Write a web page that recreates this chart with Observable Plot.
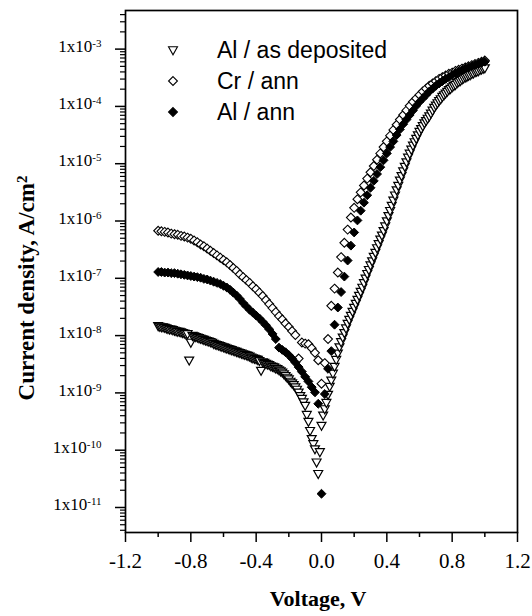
<!DOCTYPE html>
<html><head><meta charset="utf-8">
<script src="https://cdn.jsdelivr.net/npm/d3@7"></script>
<script src="https://cdn.jsdelivr.net/npm/@observablehq/plot@0.6"></script>
<style>
html,body{margin:0;padding:0;background:#fff;}
#chart{width:532px;height:616px;}
</style></head><body><div id="chart"></div>
<script>
// ---- data (current density, stored as log10 of A/cm^2) ----
const seriesNames = ["Al / as deposited", "Cr / ann", "Al / ann"];

// voltage sweep, 0.02 V step (Cr / ann and Al / ann)
const voltage02 = [
-1,-0.98,-0.96,-0.94,-0.92,-0.9,-0.88,-0.86,-0.84,-0.82,
-0.8,-0.78,-0.76,-0.74,-0.72,-0.7,-0.68,-0.66,-0.64,-0.62,
-0.6,-0.58,-0.56,-0.54,-0.52,-0.5,-0.48,-0.46,-0.44,-0.42,
-0.4,-0.38,-0.36,-0.34,-0.32,-0.3,-0.28,-0.26,-0.24,-0.22,
-0.2,-0.18,-0.16,-0.14,-0.12,-0.1,-0.08,-0.06,-0.04,-0.02,
0,0.02,0.04,0.06,0.08,0.1,0.12,0.14,0.16,0.18,
0.2,0.22,0.24,0.26,0.28,0.3,0.32,0.34,0.36,0.38,
0.4,0.42,0.44,0.46,0.48,0.5,0.52,0.54,0.56,0.58,
0.6,0.62,0.64,0.66,0.68,0.7,0.72,0.74,0.76,0.78,
0.8,0.82,0.84,0.86,0.88,0.9,0.92,0.94,0.96,0.98,
1];

// voltage sweep, 0.01 V step (Al / as deposited)
const voltage01 = [
-1,-0.99,-0.98,-0.97,-0.96,-0.95,-0.94,-0.93,-0.92,-0.91,
-0.9,-0.89,-0.88,-0.87,-0.86,-0.85,-0.84,-0.83,-0.82,-0.81,
-0.8,-0.79,-0.78,-0.77,-0.76,-0.75,-0.74,-0.73,-0.72,-0.71,
-0.7,-0.69,-0.68,-0.67,-0.66,-0.65,-0.64,-0.63,-0.62,-0.61,
-0.6,-0.59,-0.58,-0.57,-0.56,-0.55,-0.54,-0.53,-0.52,-0.51,
-0.5,-0.49,-0.48,-0.47,-0.46,-0.45,-0.44,-0.43,-0.42,-0.41,
-0.4,-0.39,-0.38,-0.37,-0.36,-0.35,-0.34,-0.33,-0.32,-0.31,
-0.3,-0.29,-0.28,-0.27,-0.26,-0.25,-0.24,-0.23,-0.22,-0.21,
-0.2,-0.19,-0.18,-0.17,-0.16,-0.15,-0.14,-0.13,-0.12,-0.11,
-0.1,-0.09,-0.08,-0.07,-0.06,-0.05,-0.04,-0.03,-0.02,-0.01,
0,0.01,0.02,0.03,0.04,0.05,0.06,0.07,0.08,0.09,
0.1,0.11,0.12,0.13,0.14,0.15,0.16,0.17,0.18,0.19,
0.2,0.21,0.22,0.23,0.24,0.25,0.26,0.27,0.28,0.29,
0.3,0.31,0.32,0.33,0.34,0.35,0.36,0.37,0.38,0.39,
0.4,0.41,0.42,0.43,0.44,0.45,0.46,0.47,0.48,0.49,
0.5,0.51,0.52,0.53,0.54,0.55,0.56,0.57,0.58,0.59,
0.6,0.61,0.62,0.63,0.64,0.65,0.66,0.67,0.68,0.69,
0.7,0.71,0.72,0.73,0.74,0.75,0.76,0.77,0.78,0.79,
0.8,0.81,0.82,0.83,0.84,0.85,0.86,0.87,0.88,0.89,
0.9,0.91,0.92,0.93,0.94,0.95,0.96,0.97,0.98,0.99,
1];

const alAsDepositedLog10J = [
-7.83,-7.84,-7.85,-7.85,-7.86,-7.87,-7.88,-7.89,-7.89,-7.90,
-7.91,-7.92,-7.93,-7.93,-7.94,-7.95,-7.96,-7.97,-7.97,-8.43,
-8.12,-8.00,-8.01,-8.02,-8.03,-8.04,-8.05,-8.06,-8.07,-8.08,
-8.09,-8.10,-8.11,-8.12,-8.14,-8.15,-8.16,-8.17,-8.18,-8.19,
-8.20,-8.21,-8.22,-8.23,-8.24,-8.25,-8.26,-8.27,-8.28,-8.29,
-8.30,-8.31,-8.32,-8.33,-8.34,-8.35,-8.36,-8.38,-8.39,-8.40,
-8.41,-8.42,-8.44,-8.61,-8.46,-8.47,-8.49,-8.50,-8.51,-8.53,
-8.54,-8.55,-8.57,-8.58,-8.60,-8.62,-8.64,-8.67,-8.70,-8.73,
-8.76,-8.80,-8.83,-8.86,-8.90,-8.94,-8.99,-9.05,-9.10,-9.16,
-9.22,-9.38,-9.50,-9.66,-9.80,-9.89,-9.98,-10.21,-10.41,-10.03,
-9.57,-9.39,-9.28,-9.17,-9.03,-8.89,-8.78,-8.66,-8.54,-8.42,
-8.31,-8.20,-8.11,-8.03,-7.95,-7.87,-7.79,-7.72,-7.65,-7.58,
-7.51,-7.44,-7.37,-7.30,-7.23,-7.16,-7.08,-7.00,-6.92,-6.85,
-6.77,-6.70,-6.62,-6.55,-6.47,-6.40,-6.32,-6.25,-6.17,-6.09,
-6.00,-5.91,-5.82,-5.73,-5.64,-5.55,-5.46,-5.38,-5.29,-5.21,
-5.13,-5.05,-4.97,-4.89,-4.82,-4.75,-4.68,-4.62,-4.56,-4.50,
-4.44,-4.39,-4.34,-4.29,-4.25,-4.21,-4.17,-4.12,-4.07,-4.02,
-3.98,-3.94,-3.90,-3.87,-3.83,-3.80,-3.77,-3.74,-3.71,-3.69,
-3.66,-3.64,-3.62,-3.59,-3.57,-3.55,-3.53,-3.51,-3.49,-3.48,
-3.46,-3.45,-3.43,-3.42,-3.40,-3.39,-3.38,-3.36,-3.35,-3.34,
-3.33];

const crAnnLog10J = [
-6.17,-6.18,-6.19,-6.20,-6.22,-6.23,-6.24,-6.26,-6.27,-6.29,
-6.31,-6.34,-6.37,-6.41,-6.44,-6.48,-6.52,-6.56,-6.60,-6.64,
-6.68,-6.72,-6.77,-6.82,-6.87,-6.93,-6.98,-7.03,-7.08,-7.14,
-7.19,-7.25,-7.31,-7.38,-7.45,-7.52,-7.59,-7.66,-7.72,-7.79,
-7.85,-7.92,-7.99,-8.40,-8.12,-8.14,-8.15,-8.22,-8.30,-8.43,
-8.84,-8.48,-8.06,-7.48,-7.18,-6.90,-6.63,-6.38,-6.15,-5.94,
-5.77,-5.62,-5.50,-5.38,-5.26,-5.15,-5.04,-4.93,-4.82,-4.71,
-4.61,-4.51,-4.41,-4.32,-4.23,-4.15,-4.07,-3.99,-3.92,-3.86,
-3.80,-3.74,-3.69,-3.64,-3.60,-3.56,-3.52,-3.49,-3.46,-3.43,
-3.41,-3.38,-3.36,-3.34,-3.32,-3.30,-3.28,-3.26,-3.24,-3.22,
-3.20];

const alAnnLog10J = [
-6.89,-6.89,-6.90,-6.90,-6.91,-6.91,-6.92,-6.93,-6.94,-6.95,
-6.96,-6.97,-6.98,-6.99,-7.01,-7.02,-7.04,-7.06,-7.08,-7.10,
-7.13,-7.16,-7.20,-7.25,-7.30,-7.36,-7.43,-7.49,-7.55,-7.60,
-7.65,-7.70,-7.76,-7.82,-7.89,-7.97,-8.06,-8.21,-8.25,-8.29,
-8.34,-8.40,-8.47,-8.55,-8.63,-8.72,-8.80,-8.90,-8.99,-9.19,
-10.76,-9.02,-8.58,-8.27,-7.81,-7.51,-7.24,-6.97,-6.69,-6.43,
-6.20,-5.99,-5.82,-5.68,-5.55,-5.42,-5.30,-5.18,-5.06,-4.94,
-4.82,-4.71,-4.61,-4.50,-4.40,-4.31,-4.23,-4.15,-4.07,-3.99,
-3.92,-3.86,-3.80,-3.74,-3.69,-3.64,-3.60,-3.56,-3.52,-3.49,
-3.45,-3.42,-3.39,-3.37,-3.34,-3.32,-3.30,-3.28,-3.26,-3.24,
-3.22];

// axis ticks
const xMajorTicks = [-1.2, -0.8, -0.4, 0, 0.4, 0.8, 1.2];
const xMinorTicks = [-1.0, -0.6, -0.2, 0.2, 0.6, 1.0];
const yMajorTicks = [1e-11, 1e-10, 1e-9, 1e-8, 1e-7, 1e-6, 1e-5, 1e-4, 1e-3];
const yDomain = [3.66e-12, 4.72e-3];
const xTitle = "Voltage, V";
const yTitleMain = "Current density, A/cm";
const yTitleSup = "2";

// ---- build tables ----
const asDep = voltage01.map((v, i) => ({v, j: 10 ** alAsDepositedLog10J[i]}));
const crAnn = voltage02.map((v, i) => ({v, j: 10 ** crAnnLog10J[i]}));
const alAnn = voltage02.map((v, i) => ({v, j: 10 ** alAnnLog10J[i]}));

const yMinorTicks = [];
for (const d of [1e-12, ...yMajorTicks]) for (let k = 2; k <= 9; k++) {
  const t = k * d; if (t >= yDomain[0] && t <= yDomain[1]) yMinorTicks.push(t);
}

// inverted triangle symbol
const triangleDown = {
  draw(ctx, size) {
    const r = Math.sqrt(size / Math.PI);
    const w = 1.12 * r, top = -0.8 * r, bot = 1.2 * r;
    ctx.moveTo(-w, top); ctx.lineTo(w, top); ctx.lineTo(0, bot); ctx.closePath();
  }
};

const serif = "'Liberation Serif', 'Times New Roman', Times, serif";
const sans = "'Liberation Sans', Arial, Helvetica, sans-serif";
const R = 4;

const svg = Plot.plot({
  width: 532, height: 616,
  marginLeft: 125, marginRight: 15, marginTop: 10, marginBottom: 84,
  style: {fontFamily: serif, background: "white", color: "black", overflow: "visible"},
  x: {domain: [-1.2, 1.2]},
  y: {type: "log", domain: yDomain},
  marks: [
    Plot.axisX({ticks: xMinorTicks, tickSize: 5, strokeWidth: 1.5, tickFormat: () => "", label: null}),
    Plot.axisX({ticks: xMajorTicks, tickSize: 10, strokeWidth: 1.5, tickPadding: 11, fontSize: 21,
      tickFormat: d => d.toFixed(1), label: null}),
    Plot.axisY({ticks: yMinorTicks, tickSize: 5, strokeWidth: 1.2, tickFormat: () => "", label: null}),
    Plot.axisY({ticks: yMajorTicks, tickSize: 10, strokeWidth: 1.5, tickPadding: 14, fontSize: 17,
      tickFormat: d => "1x10|" + Math.round(Math.log10(d)), label: null}),
    Plot.dot(asDep, {x: "v", y: "j", r: R, symbol: triangleDown, fill: "white", stroke: "black", strokeWidth: 1.2}),
    Plot.dot(crAnn, {x: "v", y: "j", r: R, symbol: "diamond2", fill: "white", stroke: "black", strokeWidth: 1.1}),
    Plot.dot(alAnn, {x: "v", y: "j", r: R, symbol: "diamond2", fill: "black", stroke: "black", strokeWidth: 1}),
    Plot.frame({stroke: "black", strokeWidth: 1.7})
  ]
});

// superscript exponents on y tick labels
d3.select(svg).selectAll('g[aria-label="y-axis tick label"] text').each(function() {
  const s = this.textContent;
  if (!s.includes("|")) return;
  const [base, exp] = s.split("|");
  this.textContent = "";
  this.setAttribute("y", "0.16em");
  const sel = d3.select(this);
  sel.append("tspan").text(base);
  sel.append("tspan").attr("dy", "-0.45em").attr("font-size", 11).text(exp);
});

const root = d3.select(svg);
// axis titles
root.append("text").attr("x", 318).attr("y", 606).attr("text-anchor", "middle")
  .attr("font-family", serif).attr("font-weight", "bold").attr("font-size", 22).text(xTitle);
const yt = root.append("text").attr("transform", "translate(34,288) rotate(-90)")
  .attr("text-anchor", "middle").attr("font-family", serif).attr("font-weight", "bold").attr("font-size", 23);
yt.append("tspan").text(yTitleMain);
yt.append("tspan").attr("dy", "-0.45em").attr("font-size", 15).text(yTitleSup);

// legend
const legendSymbols = [triangleDown, d3.symbolDiamond2, d3.symbolDiamond2];
const legendFills = ["white", "white", "black"];
const lg = root.append("g").attr("aria-label", "legend");
seriesNames.forEach((name, i) => {
  const cy = 50 + i * 31;
  lg.append("path").attr("transform", `translate(173,${cy})`)
    .attr("d", d3.symbol(legendSymbols[i], R * R * Math.PI)())
    .attr("fill", legendFills[i]).attr("stroke", "black").attr("stroke-width", 1.1);
  lg.append("text").attr("x", 217).attr("y", cy + 8).attr("text-anchor", "start")
    .attr("font-family", sans).attr("font-size", 23).text(name);
});

document.getElementById("chart").appendChild(svg);
</script></body></html>
